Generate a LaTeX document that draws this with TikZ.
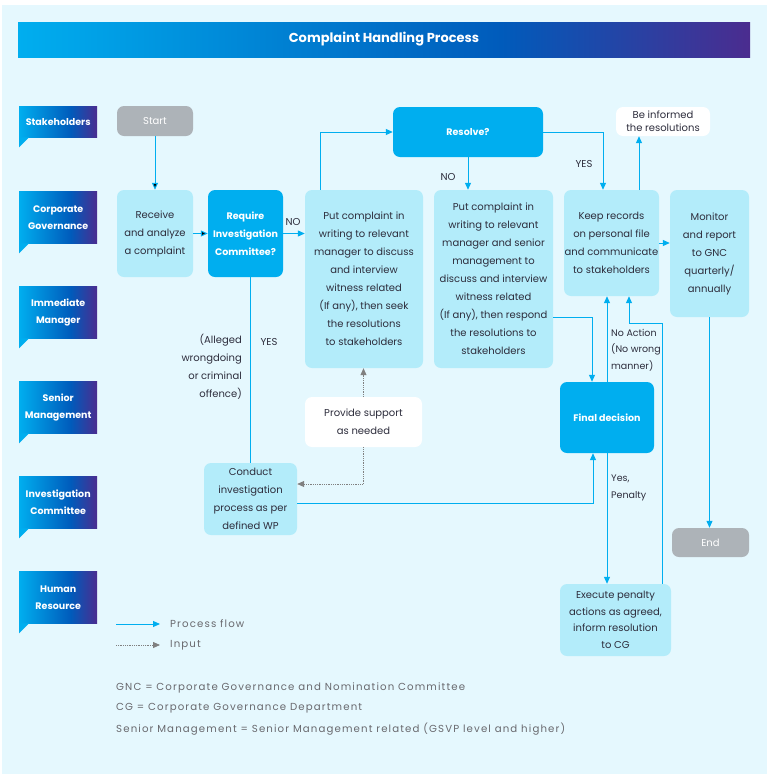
\documentclass[tikz,border=0pt]{standalone}
\usepackage{fontspec}
\setmainfont{Poppins}
\newfontfamily\notefamily[LetterSpace=11]{Poppins}
\usetikzlibrary{arrows.meta,calc,positioning}
\definecolor{bgcyan}{RGB}{229,248,254}
\definecolor{boxcyan}{RGB}{179,236,250}
\definecolor{deccyan}{RGB}{0,174,239}
\definecolor{endgray}{RGB}{173,179,184}
\definecolor{gradblue}{RGB}{0,91,187}
\definecolor{gradpurple}{RGB}{75,44,143}
\definecolor{txtdark}{RGB}{45,45,60}
\definecolor{notegray}{RGB}{105,105,110}
\definecolor{inputgray}{RGB}{128,128,128}
\pgfdeclarehorizontalshading{lanegrad}{100bp}{color(0bp)=(deccyan); color(25bp)=(deccyan); color(58bp)=(gradblue); color(75bp)=(gradpurple); color(100bp)=(gradpurple)}
\newcommand{\boxfont}{\fontsize{10}{18}\selectfont}
\newcommand{\decfont}{\fontsize{9.5}{18}\selectfont\bfseries}
\newcommand{\lanefont}{\fontsize{9.5}{17}\selectfont\bfseries}
\tikzset{
    %Define standard arrow tip
    >={Triangle[length=7pt,width=6pt]},
    %Define style for boxes
    stepbox/.style={
           rectangle,
           rounded corners=7pt,
           fill=boxcyan,
           text=txtdark,
           inner sep=0pt,
           font=\boxfont,
           align=center},
    decbox/.style={
           stepbox,
           fill=deccyan,
           font=\decfont,
           text=white},
    termbox/.style={
           stepbox,
           fill=endgray,
           text=white},
    notebox/.style={
           stepbox,
           fill=white},
    lanebox/.style={
           rectangle,
           shading=lanegrad,
           text=white,
           anchor=north west,
           minimum width=78pt,
           inner sep=0pt,
           font=\lanefont,
           align=center},
    lbl/.style={
           font=\boxfont,
           text=txtdark,
           inner sep=0pt},
    notetext/.style={
           font=\notefamily\fontsize{10.2}{12}\selectfont,
           text=notegray,
           inner sep=0pt,
           anchor=west},
    % Define arrow style
    flow/.style={
           ->,
           draw=deccyan,
           line width=1pt},
    input/.style={
           ->,
           draw=inputgray,
           densely dotted,
           line width=0.8pt}
}
\begin{document}
\begin{tikzpicture}[x=1pt,y=-1pt]
\useasboundingbox (0,0) rectangle (771,777);
\fill[bgcyan] (2,5) rectangle (767,774);
\node[lanebox, anchor=center, minimum width=732pt, minimum height=35pt, font=\fontsize{13}{15}\selectfont\bfseries](title) at (384,39.5){Complaint Handling Process};
% swim lanes
\foreach \i/\top/\hh/\txt in {1/106/31/{Stakeholders},2/191/52/{Corporate\\Governance},3/286/52/{Immediate\\Manager},4/381/52/{Senior\\Management},5/476/52/{Investigation\\Committee},6/571/52/{Human\\Resource}}{
  \node[lanebox, minimum height=\hh pt](lane\i) at (19,\top){\txt};
  \fill[deccyan] (lane\i.south west) -- ++(10,0) -- ++(-10,10) -- cycle;
}
% process steps
\node[termbox, minimum width=76pt, minimum height=30pt](start) at (155,121){Start};
\node[stepbox, minimum width=76pt, minimum height=87pt](recv) at (155,233.5){Receive\\and analyze\\a complaint};
\node[decbox, minimum width=75pt, minimum height=87pt](reqic) at (245.5,233.5){Require\\Investigation\\Committee?};
\node[stepbox, minimum width=118pt, minimum height=178pt](put1) at (364,279){Put complaint in\\writing to relevant\\manager to discuss\\and interview\\witness related\\(If any), then seek\\the resolutions\\to stakeholders};
\node[stepbox, minimum width=119pt, minimum height=178pt](put2) at (493.5,279){Put complaint in\\writing to relevant\\manager and senior\\management to\\discuss and interview\\witness related\\(If any), then respond\\the resolutions to\\stakeholders};
\node[decbox, minimum width=150pt, minimum height=50pt](resolve) at (468,132){Resolve?};
\node[stepbox, minimum width=95pt, minimum height=106pt](keep) at (611.5,243){Keep records\\on personal file\\and communicate\\to stakeholders};
\node[stepbox, minimum width=79pt, minimum height=127pt](monitor) at (709.5,253.5){Monitor\\and report\\to GNC\\quarterly/\\annually};
\node[notebox, minimum width=94pt, minimum height=29pt, font=\fontsize{10}{13}\selectfont](inform) at (663,121.5){Be informed\\the resolutions};
\node[decbox, minimum width=94pt, minimum height=71pt](final) at (607,417.5){Final decision};
\node[stepbox, minimum width=111pt, minimum height=72pt, font=\fontsize{10}{16.5}\selectfont](execute) at (615.5,620){Execute penalty\\actions as agreed,\\inform resolution\\to CG};
\node[termbox, minimum width=77pt, minimum height=29pt](endb) at (710.5,542.5){End};
\node[stepbox, minimum width=93pt, minimum height=72pt](conduct) at (250.5,499){Conduct\\investigation\\process as per\\defined WP};
\node[notebox, minimum width=117pt, minimum height=50pt](support) at (363.5,422){Provide support\\as needed};
% labels
\node[lbl](no1) at (293,222){NO};
\node[lbl](no2) at (448,177){NO};
\node[lbl](yes1) at (584,164){YES};
\node[lbl](yes2) at (269,342){YES};
\node[lbl, align=right, anchor=north east](alleged) at (242,334){(Alleged\\wrongdoing\\or criminal\\offence)};
\node[lbl, align=left, anchor=north west, font=\fontsize{9.5}{16.5}\selectfont](noact) at (611,329){No Action\\(No wrong\\manner)};
\node[lbl, align=left, anchor=north west, font=\fontsize{9.5}{17}\selectfont](penalty) at (611,475){Yes,\\Penalty};
% connectors
\path[flow]
	(start) edge (recv)
	(recv) edge (reqic);
\draw[flow] (reqic.east) -- (reqic.east -| put1.west);
\draw[flow] ($(put1.north west)+(16,0)$) |- (resolve.west);
\draw[flow] (resolve.south) -- (resolve.south |- put2.north);
\draw[flow] (resolve.east) -| ($(keep.north)+(-8.5,0)$);
\draw[flow] ($(keep.north)+(27.5,0)$) -- ($(inform.south)+(-24,0)$);
\draw[flow] (keep.east) -- (keep.east -| monitor.west);
\draw[flow] (monitor.south) -- (monitor.south |- endb.north);
\draw[flow] ($(put2.east)+(0,38)$) -| ($(final.north)+(-15,0)$);
\draw[flow] (final.north) -- (final.north |- keep.south);
\draw[flow] ($(execute.north east)+(-9,0)$) |- ($(keep.south)+(17.5,27)$) -- ($(keep.south)+(17.5,0)$);
\draw[flow] (final.south) -- (final.south |- execute.north);
\draw[flow] ($(conduct.east)+(0,4)$) -| ($(final.south)+(-14,0)$);
\draw[flow, -] ($(reqic.south)+(4.5,0)$) -- ($(conduct.north)+(-0.5,0)$);
\draw[input] (support.north) -- (support.north |- put1.south);
\draw[input] (support.south) |- ($(conduct.east)+(0,-15)$);
% legend
\coordinate (pf0) at (116,624);
\coordinate (pf1) at (160,624);
\coordinate (in0) at (116,645);
\coordinate (in1) at (160,645);
\draw[flow] (pf0) -- (pf1);
\draw[input] (in0) -- (in1);
\node[notetext](pflbl) at (170,624){Process flow};
\node[notetext](inlbl) at (170,645){Input};
\node[notetext](gnc) at (116,688){GNC = Corporate Governance and Nomination Committee};
\node[notetext](cg) at (116,708){CG = Corporate Governance Department};
\node[notetext](sm) at (116,729){Senior Management = Senior Management related (GSVP level and higher)};
\end{tikzpicture}
\end{document}
